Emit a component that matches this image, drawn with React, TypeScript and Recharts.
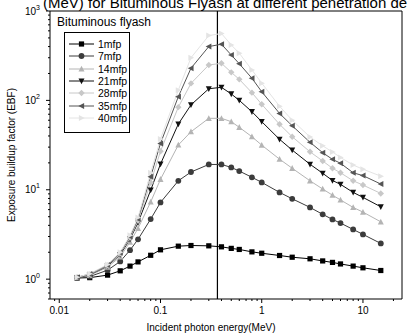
import React from "react";
import { LineChart, Line, XAxis, YAxis, ReferenceLine, Legend } from "recharts";

const energies = [0.015, 0.02, 0.03, 0.04, 0.05, 0.06, 0.08, 0.1, 0.15, 0.2, 0.3, 0.4, 0.5, 0.6, 0.8, 1, 1.5, 2, 3, 4, 5, 6, 8, 10, 15];
const mfp1 = [1.03, 1.04, 1.11, 1.24, 1.4, 1.56, 1.85, 2.13, 2.34, 2.38, 2.36, 2.3, 2.21, 2.15, 2.02, 1.95, 1.84, 1.76, 1.69, 1.6, 1.54, 1.48, 1.4, 1.34, 1.25];
const mfp7 = [1.03, 1.07, 1.26, 1.58, 2.11, 2.79, 4.7, 7.22, 12.6, 15.8, 19.2, 19.2, 17.8, 16.2, 13.8, 12.1, 9.35, 7.93, 6.35, 5.31, 4.66, 4.24, 3.6, 3.17, 2.51];
const mfp14 = [1.04, 1.1, 1.36, 1.78, 2.6, 3.7, 7.3, 13.1, 31.7, 44.6, 63, 63, 57.8, 50, 39.2, 31.6, 22, 17.4, 12.6, 10.2, 8.7, 7.7, 6.35, 5.63, 4.38];
const mfp21 = [1.04, 1.12, 1.4, 1.88, 2.8, 4.3, 9.9, 19.4, 54.4, 89, 135, 140, 118, 100, 74.7, 57.8, 36.7, 27.8, 19.3, 15.3, 12.7, 11.5, 9.35, 8.22, 6.45];
const mfp28 = [1.05, 1.13, 1.42, 1.93, 2.9, 4.5, 12, 27, 84, 155, 249, 260, 206, 172, 122, 90.4, 54, 39.2, 26.6, 21, 17.4, 15.5, 12.6, 11.3, 9.1];
const mfp35 = [1.05, 1.14, 1.44, 1.97, 3.0, 4.7, 14, 33, 110, 229, 400, 425, 322, 257, 177, 125, 71.5, 52, 34, 26, 21.9, 19.8, 15.5, 14.4, 11.6];
const mfp40 = [1.05, 1.15, 1.46, 2.0, 3.1, 4.9, 15.5, 37, 130, 300, 531, 560, 417, 337, 219, 156, 86, 60, 39, 31, 26.5, 23, 18.9, 17, 14.2];

const seriesNames = ["1mfp", "7mfp", "14mfp", "21mfp", "28mfp", "35mfp", "40mfp"];
const seriesValues = [mfp1, mfp7, mfp14, mfp21, mfp28, mfp35, mfp40];
const seriesColors = ["#000000", "#3c3c3c", "#b4b4b4", "#111111", "#c8c8c8", "#555555", "#e4e4e4"];
const seriesShapes = ["square", "circle", "up", "down", "diamond", "left", "right"];

const xMajor = [0.01, 0.1, 1, 10];
const xMinor = [0.009, 0.02, 0.03, 0.04, 0.05, 0.06, 0.07, 0.08, 0.09, 0.2, 0.3, 0.4, 0.5, 0.6, 0.7, 0.8, 0.9, 2, 3, 4, 5, 6, 7, 8, 9, 20];
const yMajor = [1, 10, 100, 1000];
const yExp = ["0", "1", "2", "3"];
const yMinor = [0.6, 0.7, 0.8, 0.9, 2, 3, 4, 5, 6, 7, 8, 9, 20, 30, 40, 50, 60, 70, 80, 90, 200, 300, 400, 500, 600, 700, 800, 900];
const xDomain = [0.0081, 24.3];
const yDomain = [0.6, 1000];
const markerEnergy = 0.365;

const rows = energies.map((e, i) => {
  const r: any = { e };
  seriesNames.forEach((n, k) => (r[n] = seriesValues[k][i]));
  return r;
});

function Marker({ shape, cx, cy, color, s = 2.6 }: any) {
  if (cx == null || cy == null) return null;
  switch (shape) {
    case "square":
      return <rect x={cx - s} y={cy - s} width={2 * s} height={2 * s} fill={color} />;
    case "circle":
      return <circle cx={cx} cy={cy} r={s + 0.3} fill={color} />;
    case "up":
      return <polygon points={`${cx},${cy - s - 0.6} ${cx - s - 0.4},${cy + s} ${cx + s + 0.4},${cy + s}`} fill={color} />;
    case "down":
      return <polygon points={`${cx},${cy + s + 0.6} ${cx - s - 0.4},${cy - s} ${cx + s + 0.4},${cy - s}`} fill={color} />;
    case "diamond":
      return <polygon points={`${cx},${cy - s - 0.6} ${cx + s + 0.6},${cy} ${cx},${cy + s + 0.6} ${cx - s - 0.6},${cy}`} fill={color} />;
    case "left":
      return <polygon points={`${cx - s - 0.6},${cy} ${cx + s},${cy - s - 0.4} ${cx + s},${cy + s + 0.4}`} fill={color} />;
    case "right":
      return <polygon points={`${cx + s + 0.6},${cy} ${cx - s},${cy - s - 0.4} ${cx - s},${cy + s + 0.4}`} fill={color} />;
  }
  return null;
}

const XTick = (props: any) => {
  const { x, y, payload } = props;
  const v = payload.value;
  const major = xMajor.includes(v);
  return (
    <g>
      <line x1={x} x2={x} y1={y} y2={y + (major ? 4 : 2)} stroke="#000" strokeWidth={1} />
      {major && (
        <text x={x} y={y + 15} textAnchor="middle" fontSize={10} fontFamily="Liberation Sans, Arial" fill="#000">
          {String(v)}
        </text>
      )}
    </g>
  );
};

const YTick = (props: any) => {
  const { x, y, payload } = props;
  const v = payload.value;
  const idx = yMajor.indexOf(v);
  const major = idx >= 0;
  return (
    <g>
      <line x1={x} x2={x - (major ? 4 : 2)} y1={y} y2={y} stroke="#000" strokeWidth={1} />
      {major && (
        <text x={x - 10} y={y + 3.5} textAnchor="end" fontSize={10} fontFamily="Liberation Sans, Arial" fill="#000">
          10
          <tspan dy={-5} fontSize={7}>{yExp[idx]}</tspan>
        </text>
      )}
    </g>
  );
};

const LegendBox = () => (
  <div style={{ fontFamily: "Liberation Sans, Arial", color: "#000" }}>
    <div style={{ fontSize: 12, lineHeight: "14px", marginLeft: 1 }}>Bituminous flyash</div>
    <div style={{ border: "1px solid #000", width: 66, height: 101, marginLeft: 8, marginTop: 3, boxSizing: "border-box", paddingTop: 5 }}>
      {seriesNames.map((n, k) => (
        <div key={n} style={{ display: "flex", alignItems: "center", height: 12.3 }}>
          <svg width={30} height={10} style={{ marginLeft: 3 }}>
            <line x1={1} x2={26} y1={5} y2={5} stroke={seriesColors[k]} strokeWidth={1} />
            <Marker shape={seriesShapes[k]} cx={13.5} cy={5} color={seriesColors[k]} />
          </svg>
          <span style={{ fontSize: 10.5, marginLeft: 0 }}>{n}</span>
        </div>
      ))}
    </div>
  </div>
);

export default function App() {
  return (
    <div style={{ position: "absolute", left: 0, top: 0, width: 407, height: 333, overflow: "hidden", background: "#fff" }}>
      <LineChart width={407} height={333} data={rows} margin={{ top: 11, right: 5, left: 0, bottom: 0 }}>
        <XAxis
          dataKey="e"
          type="number"
          scale="log"
          domain={xDomain}
          allowDataOverflow
          ticks={[...xMajor, ...xMinor]}
          interval={0}
          tick={<XTick />}
          tickLine={false}
          tickSize={0}
          tickMargin={0}
          height={34}
          stroke="#000"
          label={(p: any) => {
            const vb = p.viewBox;
            return (
              <text x={vb.x + vb.width / 2 - 15} y={331} textAnchor="middle" fontSize={10} fontFamily="Liberation Sans, Arial" fill="#000">
                Incident photon energy(MeV)
              </text>
            );
          }}
        />
        <YAxis
          type="number"
          scale="log"
          domain={yDomain}
          allowDataOverflow
          ticks={[...yMajor, ...yMinor]}
          interval={0}
          tick={<YTick />}
          tickLine={false}
          tickSize={0}
          tickMargin={0}
          width={50}
          stroke="#000"
          label={(p: any) => {
            const vb = p.viewBox;
            const cy = vb.y + vb.height / 2;
            return (
              <text x={15} y={cy} transform={`rotate(-90, 15, ${cy})`} textAnchor="middle" fontSize={10} fontFamily="Liberation Sans, Arial" fill="#000">
                Exposure buildup factor (EBF)
              </text>
            );
          }}
        />
        <ReferenceLine y={yDomain[1]} stroke="#000" strokeWidth={1} ifOverflow="visible" />
        <ReferenceLine x={xDomain[1]} stroke="#000" strokeWidth={1} ifOverflow="visible" />
        <ReferenceLine x={markerEnergy} stroke="#000" strokeWidth={1.2} />
        <Legend
          layout="vertical"
          verticalAlign="middle"
          align="center"
          wrapperStyle={{ left: 56, top: 15, width: 120 }}
          content={() => <LegendBox />}
        />
        {seriesNames.map((n, k) => (
          <Line
            key={n}
            dataKey={n}
            stroke={seriesColors[k]}
            strokeWidth={1}
            isAnimationActive={false}
            dot={(p: any) => <Marker key={`${n}-${p.index}`} shape={seriesShapes[k]} cx={p.cx} cy={p.cy} color={seriesColors[k]} />}
            activeDot={false}
          />
        ))}
      </LineChart>
      <div
        style={{
          position: "absolute",
          left: 43,
          top: -5.6,
          lineHeight: "normal",
          whiteSpace: "nowrap",
          fontFamily: "Liberation Sans, Arial",
          fontSize: 15,
          color: "#000",
        }}
      >
        (MeV) for Bituminous Flyash at different penetration depths
      </div>
    </div>
  );
}
